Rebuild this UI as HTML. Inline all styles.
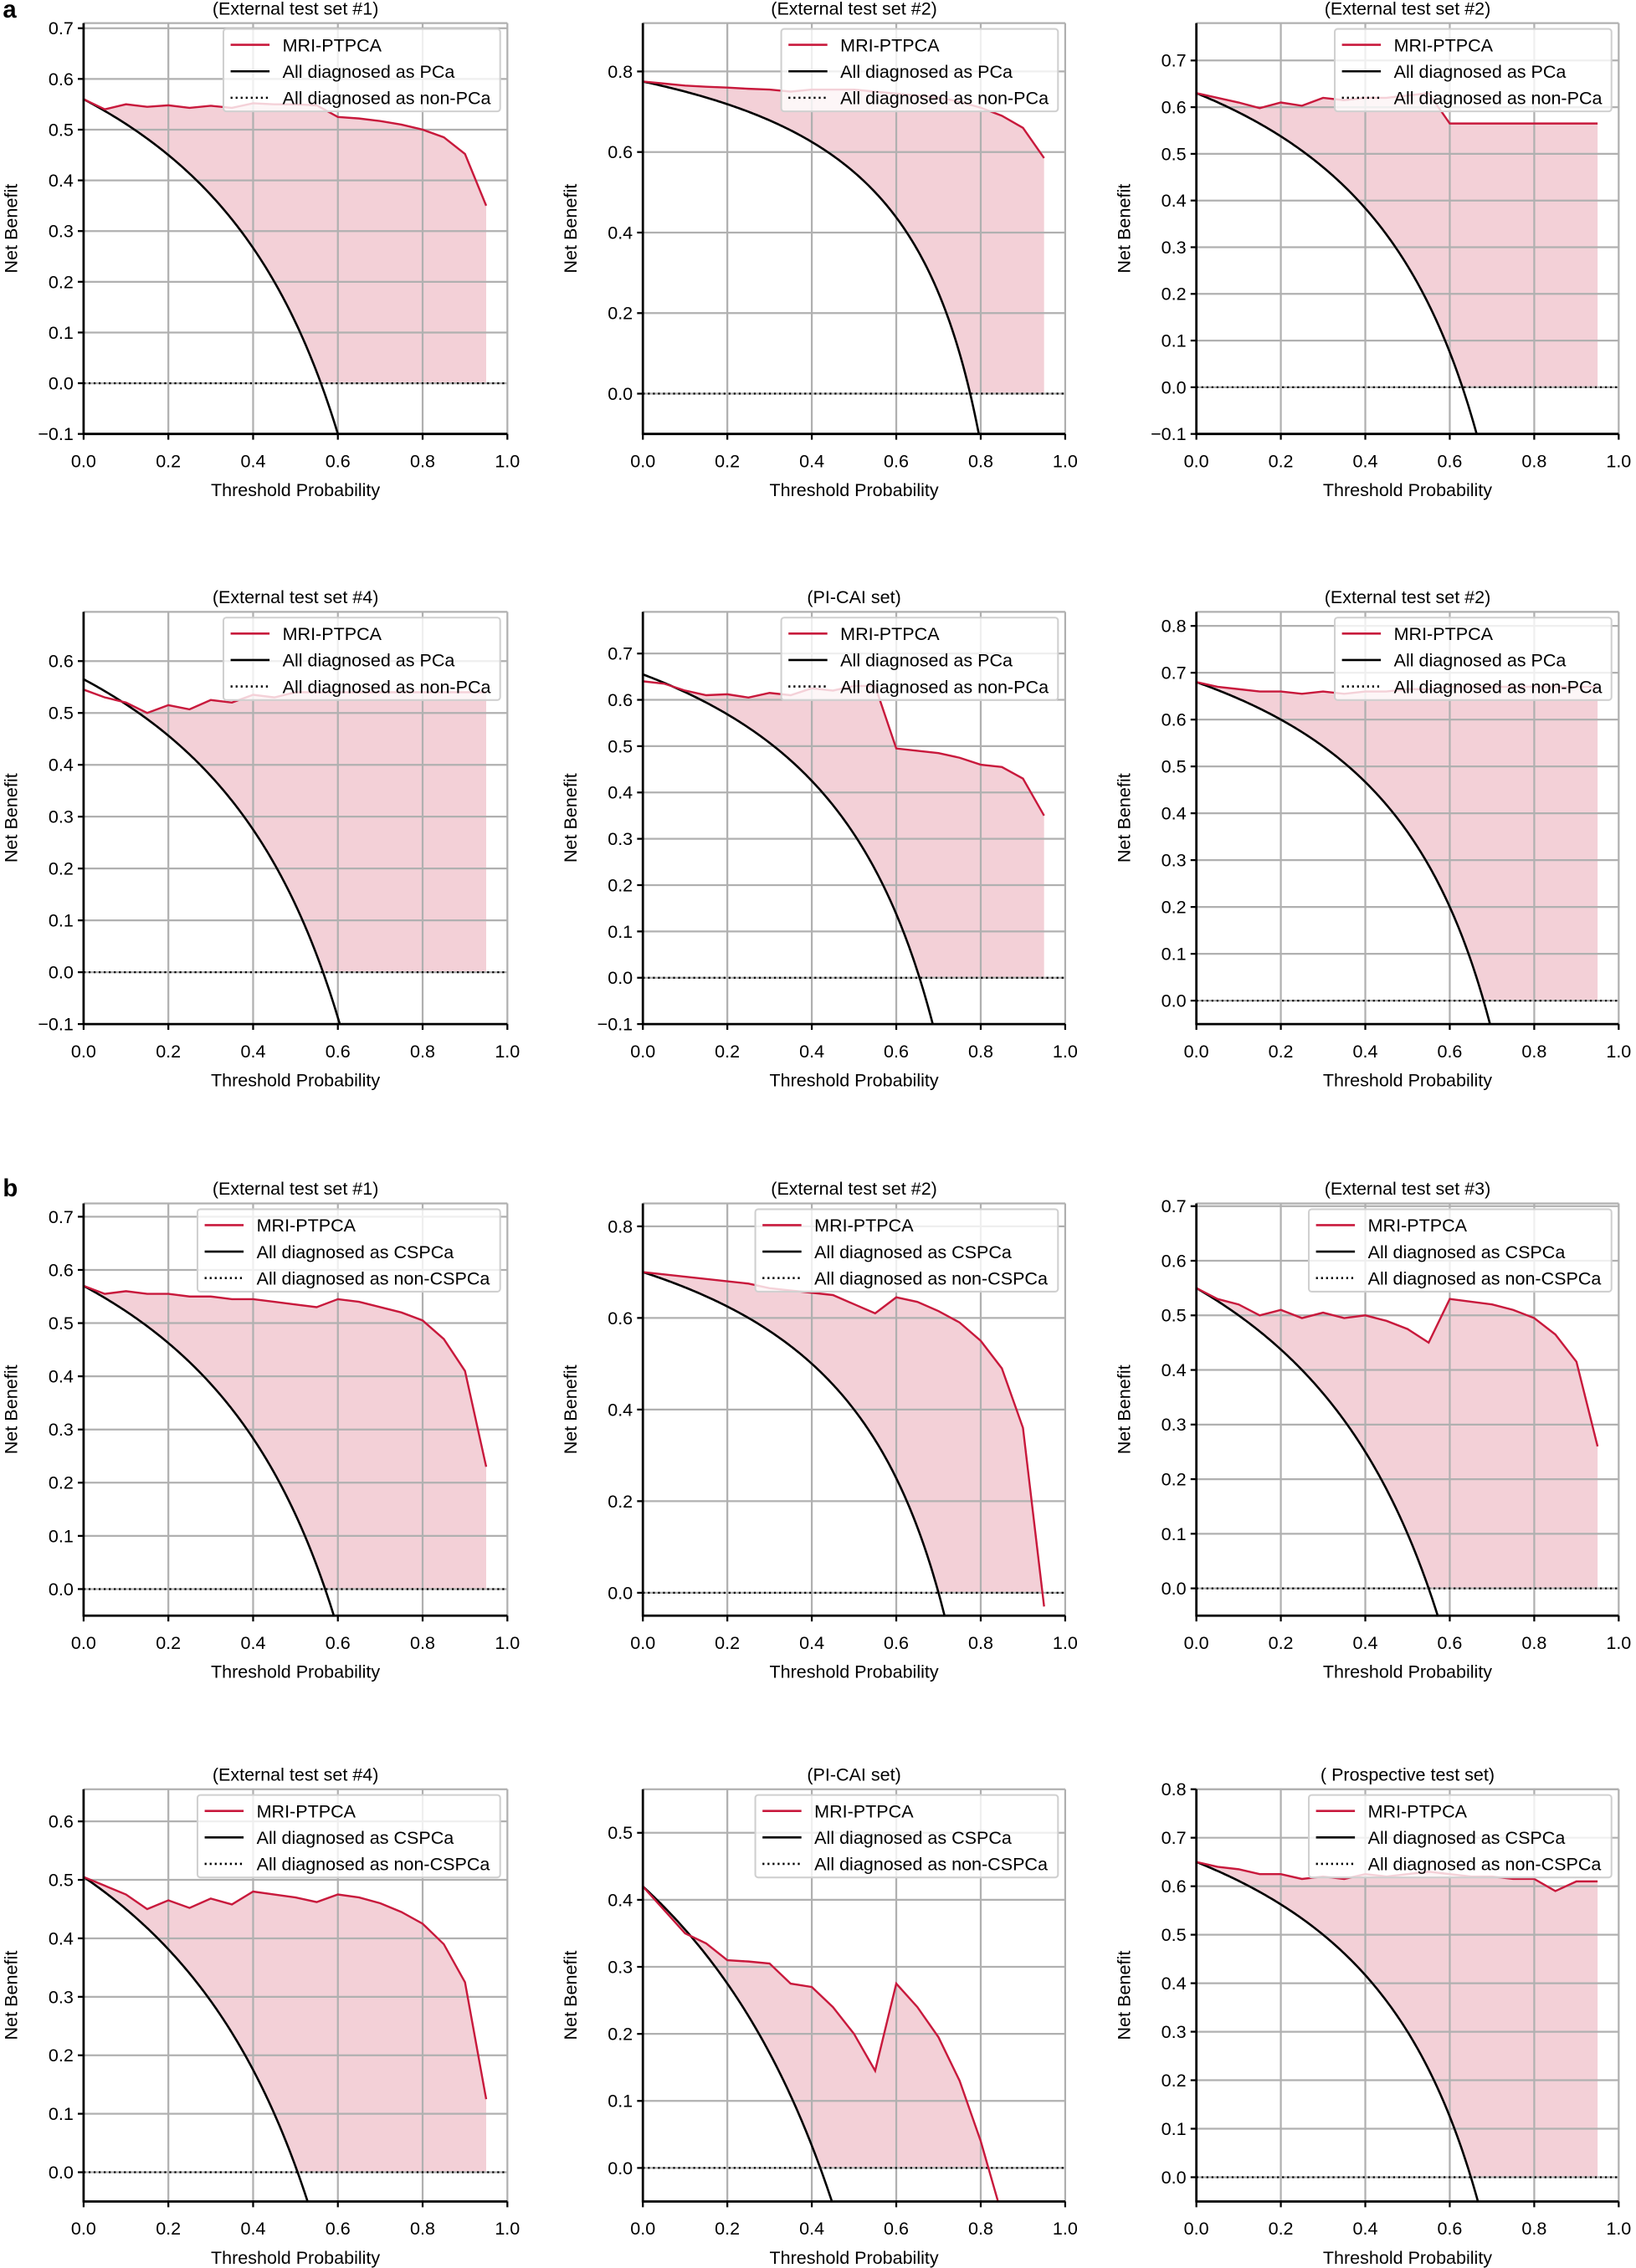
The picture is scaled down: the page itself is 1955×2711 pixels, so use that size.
<!DOCTYPE html>
<html><head><meta charset="utf-8"><style>
html,body{margin:0;padding:0;background:#fff;}
svg{display:block;}
text{font-family:"Liberation Sans",Arial,sans-serif;fill:#000;}
</style></head><body>
<svg id="s" width="1955" height="2711" viewBox="0 0 1135 1568" preserveAspectRatio="none" xmlns="http://www.w3.org/2000/svg">
<text x="2" y="12" font-size="17" font-weight="bold">a</text>
<text x="2" y="827" font-size="17" font-weight="bold">b</text>
</svg>
<script>
var S=document.getElementById('s');
var NS='http://www.w3.org/2000/svg';
function el(n,a,t){var e=document.createElementNS(NS,n);for(var k in a)e.setAttribute(k,a[k]);if(t!=null)e.textContent=t;S.appendChild(e);return e;}
var cols=[[58,352],[446,739],[830,1123]];
var rows=[[16,300],[423,708],[832,1117],[1237,1522]];
var P=[
{t:"(External test set #1)",p:0.56,ymin:-0.1,ymax:0.71,st:0.1,lw:192,pc:"PCa",m:[0.56,0.54,0.55,0.545,0.548,0.543,0.547,0.543,0.552,0.55,0.55,0.548,0.525,0.522,0.517,0.51,0.5,0.485,0.452,0.35]},
{t:"(External test set #2)",p:0.775,ymin:-0.1,ymax:0.92,st:0.2,lw:192,pc:"PCa",m:[0.775,0.77,0.765,0.762,0.76,0.757,0.755,0.75,0.755,0.755,0.755,0.75,0.745,0.74,0.735,0.725,0.71,0.69,0.66,0.585]},
{t:"(External test set #2)",p:0.63,ymin:-0.1,ymax:0.78,st:0.1,lw:192,pc:"PCa",m:[0.63,0.62,0.61,0.598,0.61,0.603,0.62,0.615,0.62,0.62,0.625,0.63,0.565,0.565,0.565,0.565,0.565,0.565,0.565,0.565]},
{t:"(External test set #4)",p:0.565,ymin:-0.1,ymax:0.695,st:0.1,lw:192,pc:"PCa",m:[0.545,0.53,0.52,0.5,0.515,0.507,0.525,0.52,0.535,0.53,0.54,0.54,0.54,0.54,0.54,0.54,0.54,0.54,0.54,0.54]},
{t:"(PI-CAI set)",p:0.655,ymin:-0.1,ymax:0.79,st:0.1,lw:192,pc:"PCa",m:[0.64,0.635,0.62,0.61,0.612,0.605,0.615,0.61,0.625,0.62,0.63,0.63,0.495,0.49,0.485,0.475,0.46,0.455,0.43,0.35]},
{t:"(External test set #2)",p:0.68,ymin:-0.05,ymax:0.83,st:0.1,lw:192,pc:"PCa",m:[0.68,0.67,0.665,0.66,0.66,0.655,0.66,0.655,0.66,0.66,0.665,0.665,0.67,0.67,0.67,0.67,0.67,0.67,0.67,0.67]},
{t:"(External test set #1)",p:0.57,ymin:-0.05,ymax:0.725,st:0.1,lw:210,pc:"CSPCa",m:[0.57,0.555,0.56,0.555,0.555,0.55,0.55,0.545,0.545,0.54,0.535,0.53,0.545,0.54,0.53,0.52,0.505,0.47,0.41,0.23]},
{t:"(External test set #2)",p:0.70,ymin:-0.05,ymax:0.85,st:0.2,lw:210,pc:"CSPCa",m:[0.70,0.695,0.69,0.685,0.68,0.675,0.665,0.66,0.655,0.65,0.63,0.61,0.645,0.635,0.615,0.59,0.55,0.49,0.36,-0.03]},
{t:"(External test set #3)",p:0.55,ymin:-0.05,ymax:0.705,st:0.1,lw:210,pc:"CSPCa",m:[0.55,0.53,0.52,0.5,0.51,0.495,0.505,0.495,0.5,0.49,0.475,0.45,0.53,0.525,0.52,0.51,0.495,0.465,0.415,0.26]},
{t:"(External test set #4)",p:0.505,ymin:-0.05,ymax:0.655,st:0.1,lw:210,pc:"CSPCa",m:[0.505,0.49,0.475,0.45,0.465,0.452,0.468,0.458,0.48,0.475,0.47,0.462,0.475,0.47,0.46,0.445,0.425,0.39,0.325,0.125]},
{t:"(PI-CAI set)",p:0.42,ymin:-0.05,ymax:0.565,st:0.1,lw:210,pc:"CSPCa",m:[0.42,0.385,0.35,0.335,0.31,0.308,0.305,0.275,0.27,0.24,0.2,0.145,0.275,0.24,0.195,0.13,0.04,-0.07]},
{t:"( Prospective test set)",p:0.65,ymin:-0.05,ymax:0.8,st:0.1,lw:210,pc:"CSPCa",m:[0.65,0.64,0.635,0.625,0.625,0.615,0.62,0.615,0.625,0.62,0.625,0.63,0.625,0.62,0.62,0.615,0.615,0.59,0.61,0.61]}
];
var cid=0;
P.forEach(function(d,i){
 var c=cols[i%3],r=rows[Math.floor(i/3)];
 var x0=c[0],x1=c[1],y0=r[0],y1=r[1];
 var X=function(t){return x0+(x1-x0)*t;};
 var Y=function(v){return y1-(y1-y0)*(v-d.ymin)/(d.ymax-d.ymin);};
 cid++;
 var cp=el('clipPath',{id:'c'+cid});
 var rr=document.createElementNS(NS,'rect');rr.setAttribute('x',x0);rr.setAttribute('y',y0);rr.setAttribute('width',x1-x0);rr.setAttribute('height',y1-y0);cp.appendChild(rr);
 var n=d.m.length, step=0.05;
 var top=[],bot=[];
 var N=200, tmax=(n-1)*step;
 for(var k=0;k<=N;k++){
  var t=tmax*k/N;
  var j=Math.min(Math.floor(t/step),n-2), f=(t-j*step)/step;
  var mv=d.m[j]*(1-f)+d.m[j+1]*f;
  var av=Math.max(d.p-(1-d.p)*t/(1-t),0);
  if(mv<av)mv=av;
  top.push(X(t).toFixed(2)+','+Y(mv).toFixed(2));
  bot.unshift(X(t).toFixed(2)+','+Y(av).toFixed(2));
 }
 el('polygon',{points:top.concat(bot).join(' '),fill:'#f3d0d7','clip-path':'url(#c'+cid+')'});
 for(var g=0;g<=5;g++){var gx=X(g*0.2);el('line',{x1:gx,y1:y0,x2:gx,y2:y1,stroke:'#b0b0b0','stroke-width':1.3});}
 var start=Math.ceil((d.ymin-1e-9)/d.st)*d.st;
 for(var v=start;v<=d.ymax+1e-9;v+=d.st){
  var vv=Math.round(v*100)/100, gy=Y(vv);
  el('line',{x1:x0,y1:gy,x2:x1,y2:gy,stroke:'#b0b0b0','stroke-width':1.3});
  el('line',{x1:x0-4,y1:gy,x2:x0,y2:gy,stroke:'#000','stroke-width':1.3});
  el('text',{x:x0-7,y:gy+4.3,'font-size':12.5,'text-anchor':'end'},(vv<0?'\u2212':'')+Math.abs(vv).toFixed(1));
 }
 el('line',{x1:x0,y1:y0,x2:x1,y2:y0,stroke:'#b0b0b0','stroke-width':1.3});
 el('line',{x1:x0,y1:Y(0),x2:x1,y2:Y(0),stroke:'#000','stroke-width':1.3,'stroke-dasharray':'1.3,2.2'});
 var pts=[];for(var k=0;k<=300;k++){var t=0.99*k/300;var a=d.p-(1-d.p)*t/(1-t);if(a<d.ymin-0.2)break;pts.push(X(t).toFixed(2)+','+Y(a).toFixed(2));}
 el('polyline',{points:pts.join(' '),fill:'none',stroke:'#000','stroke-width':1.5,'clip-path':'url(#c'+cid+')'});
 var mp=d.m.map(function(v,j){return X(j*step).toFixed(2)+','+Y(v).toFixed(2);});
 el('polyline',{points:mp.join(' '),fill:'none',stroke:'#c8193c','stroke-width':1.4,'clip-path':'url(#c'+cid+')'});
 el('line',{x1:x0,y1:y0,x2:x0,y2:y1+0.7,stroke:'#000','stroke-width':1.6});
 el('line',{x1:x0,y1:y1,x2:x1,y2:y1,stroke:'#000','stroke-width':1.6});
 for(var g=0;g<=5;g++){var gx=X(g*0.2);el('line',{x1:gx,y1:y1,x2:gx,y2:y1+4,stroke:'#000','stroke-width':1.3});
  el('text',{x:gx,y:y1+23,'font-size':12.5,'text-anchor':'middle'},(g*0.2).toFixed(1));}
 el('text',{x:(x0+x1)/2,y:y1+43,'font-size':12.5,'text-anchor':'middle'},'Threshold Probability');
 var ly=(y0+y1)/2;
 el('text',{x:0,y:0,'font-size':12.5,'text-anchor':'middle',transform:'translate('+(x0-46)+','+ly+') rotate(-90)'},'Net Benefit');
 el('text',{x:(x0+x1)/2,y:y0-6,'font-size':12.5,'text-anchor':'middle'},d.t);
 var lx=x1-5-d.lw, lyy=y0+4;
 el('rect',{x:lx,y:lyy,width:d.lw,height:57,rx:2,fill:'#fff','fill-opacity':0.8,stroke:'#d0d0d0','stroke-width':1.2});
 var labs=['MRI-PTPCA','All diagnosed as '+d.pc,'All diagnosed as non-'+d.pc];
 for(var q=0;q<3;q++){var yy=lyy+11+q*18.3;
  var ln={x1:lx+5,y1:yy,x2:lx+32,y2:yy,stroke:q==0?'#c8193c':'#000','stroke-width':1.5};
  if(q==2)ln['stroke-dasharray']='1.3,2.2';
  el('line',ln);
  el('text',{x:lx+41,y:yy+4.5,'font-size':12.5},labs[q]);}
});
</script>
</body></html>
